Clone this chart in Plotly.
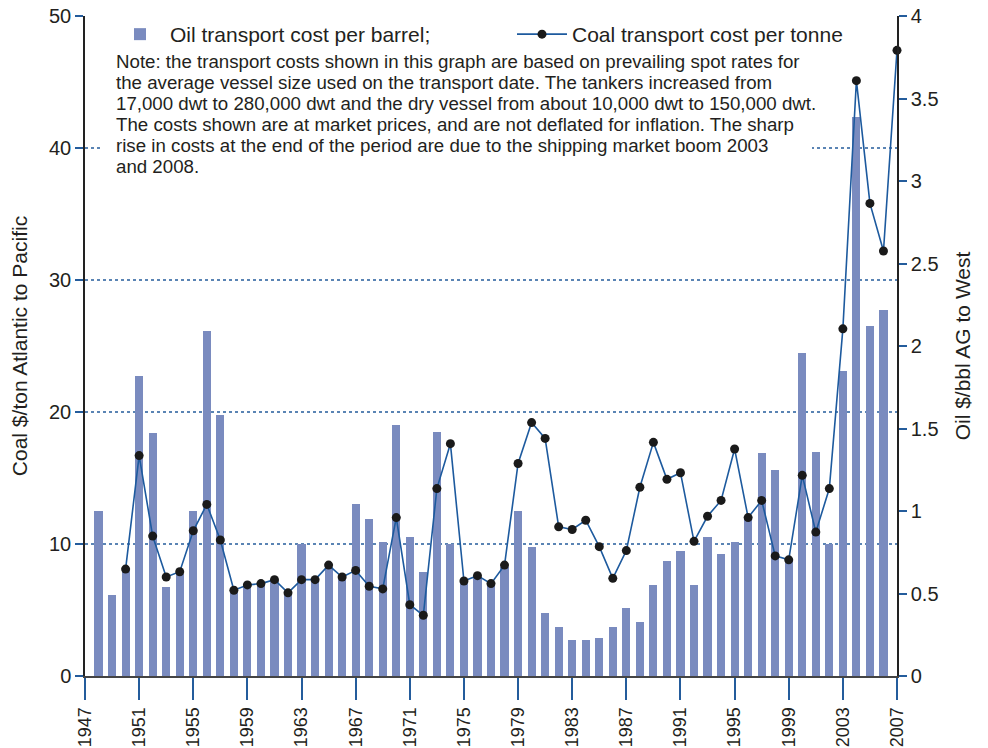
import plotly.graph_objects as go

# Oil transport cost per barrel (right axis, $/bbl AG to West)
oil_years = list(range(1948, 2007))
oil_cost = [1.00, 0.49, 0.64, 1.82, 1.47, 0.54, 0.62, 1.00, 2.09, 1.58,
            0.51, 0.54, 0.56, 0.58, 0.50, 0.80, 0.58, 0.66, 0.59, 1.04,
            0.95, 0.81, 1.52, 0.84, 0.63, 1.48, 0.80, 0.57, 0.60, 0.55,
            0.66, 1.00, 0.78, 0.38, 0.30, 0.22, 0.22, 0.23, 0.30, 0.41,
            0.33, 0.55, 0.70, 0.76, 0.55, 0.84, 0.74, 0.81, 0.96, 1.35,
            1.25, 0.70, 1.96, 1.36, 0.80, 1.85, 3.39, 2.12, 2.22]

# Coal transport cost per tonne (left axis, $/ton Atlantic to Pacific)
coal_years = list(range(1950, 2008))
coal_cost = [8.1, 16.7, 10.6, 7.5, 7.9, 11.0, 13.0, 10.3, 6.5, 6.9,
             7.0, 7.3, 6.3, 7.3, 7.3, 8.4, 7.5, 8.0, 6.8, 6.6,
             12.0, 5.4, 4.6, 14.2, 17.6, 7.2, 7.6, 7.0, 8.4, 16.1,
             19.2, 18.0, 11.3, 11.1, 11.8, 9.8, 7.4, 9.5, 14.3, 17.7,
             14.9, 15.4, 10.2, 12.1, 13.3, 17.2, 12.0, 13.3, 9.1, 8.8,
             15.2, 10.9, 14.2, 26.3, 45.1, 35.8, 32.2, 47.4]

x_ticks = list(range(1947, 2008, 4))
coal_grid = [10, 20, 30, 40]

note_lines = [
    "Note: the transport costs shown in this graph are based on prevailing spot rates for",
    "the average vessel size used on the transport date. The tankers increased from",
    "17,000 dwt to 280,000 dwt and the dry vessel from about 10,000 dwt to 150,000 dwt.",
    "The costs shown are at market prices, and are not deflated for inflation. The sharp",
    "rise in costs at the end of the period are due to the shipping market boom 2003",
    "and 2008.",
]

FONT = "Liberation Sans, Arial, sans-serif"
TEXT = "#231f20"
BLUE = "#245c9c"

# page body adds an 8px margin, so the figure is a bit smaller than the window
OFF = 8
W, H = 980, 740
X0, X1, Y0, Y1 = 85, 897, 16, 676   # plot area in window pixels


def px(x):
    return (x - X0) / (X1 - X0)


def py(y):
    return (Y1 - y) / (Y1 - Y0)


fig = go.Figure()

fig.add_trace(go.Bar(
    x=oil_years, y=oil_cost, yaxis="y",
    name="Oil transport cost per barrel;",
    marker=dict(color="#7a8bbf", line=dict(width=0)),
    width=0.6,
))

fig.add_trace(go.Scatter(
    x=coal_years, y=coal_cost, yaxis="y2",
    name="Coal transport cost per tonne",
    mode="lines+markers",
    line=dict(color="#1d5a9e", width=1.6),
    marker=dict(color="#1a1a1a", size=9),
    cliponaxis=False,
))

# dotted reference lines at coal 10..40
for v in coal_grid:
    fig.add_shape(type="line", xref="x domain", x0=0, x1=1, yref="y2", y0=v, y1=v,
                  line=dict(color=BLUE, width=1.5, dash="dot"), layer="below")

# white panel behind the note
fig.add_shape(type="rect", xref="paper", yref="paper",
              x0=px(103), x1=px(812), y0=py(188), y1=py(48),
              fillcolor="white", line=dict(width=0), layer="below")

for i, line in enumerate(note_lines):
    fig.add_annotation(
        text=line, xref="paper", yref="paper",
        x=px(114), y=py(61 + 21.2 * i), xanchor="left", yanchor="middle",
        showarrow=False, font=dict(family=FONT, size=18.7, color=TEXT),
    )

fig.update_layout(
    width=W, height=H,
    margin=dict(l=X0 - OFF, r=W + OFF - X1, t=Y0 - OFF, b=H + OFF - Y1, autoexpand=False),
    plot_bgcolor="white", paper_bgcolor="white",
    font=dict(family=FONT, color=TEXT, size=20),
    bargap=0,
    showlegend=True,
    legend=dict(
        orientation="h", x=px(110), y=py(14), xanchor="left", yanchor="top",
        font=dict(family=FONT, size=21, color=TEXT),
        bgcolor="rgba(0,0,0,0)", itemwidth=50, entrywidth=337,
    ),
    xaxis=dict(
        range=[1947, 2007], tickvals=x_ticks, tickangle=-90,
        ticks="outside", ticklen=22, tickcolor=BLUE, tickwidth=1.5,
        showline=True, linecolor="#444", linewidth=2,
        showgrid=False, zeroline=False, automargin=False,
        ticklabeloverflow="allow",
        tickfont=dict(family=FONT, size=18, color=TEXT),
    ),
    yaxis=dict(
        side="right", range=[0, 4], dtick=0.5,
        ticks="outside", ticklen=8, tickcolor=BLUE, tickwidth=2,
        showline=True, linecolor="#222", linewidth=1.5,
        showgrid=False, zeroline=False, automargin=False,
        ticklabeloverflow="allow",
        title=dict(text="Oil $/bbl AG to West", font=dict(size=21), standoff=18),
        tickfont=dict(size=20),
    ),
    yaxis2=dict(
        overlaying="y", side="left", range=[0, 50], dtick=10,
        ticks="outside", ticklen=8, tickcolor=BLUE, tickwidth=2,
        showline=True, linecolor="#222", linewidth=1.5,
        showgrid=False, zeroline=False, automargin=False,
        ticklabeloverflow="allow",
        title=dict(text="Coal $/ton Atlantic to Pacific", font=dict(size=21), standoff=18),
        tickfont=dict(size=20),
    ),
)

fig.write_html("out.html")
